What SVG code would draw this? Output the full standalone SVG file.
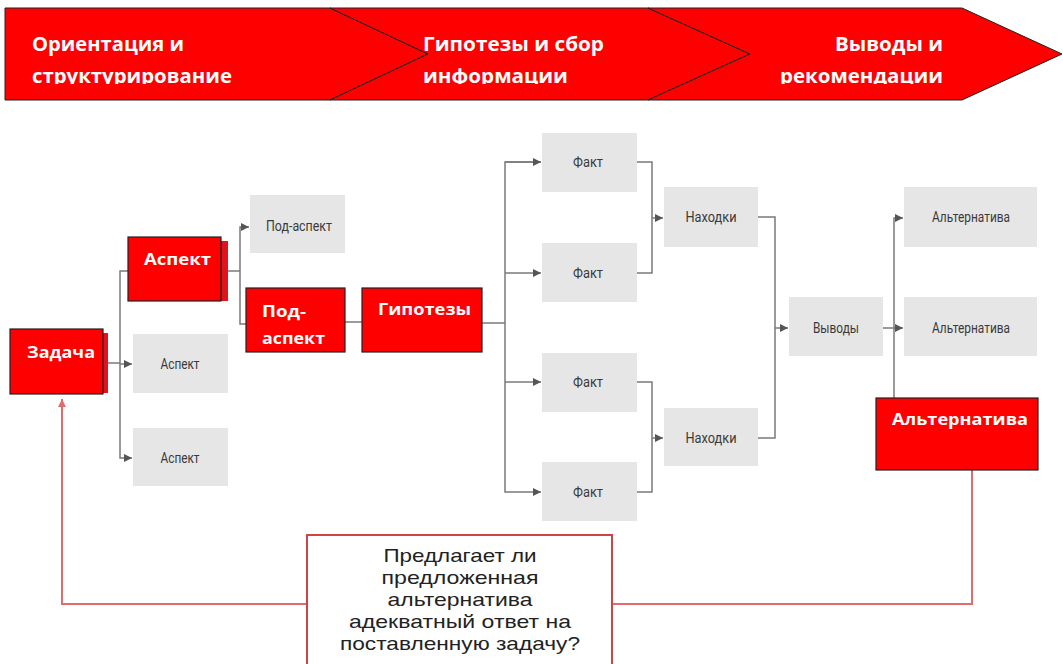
<svg xmlns="http://www.w3.org/2000/svg" width="1063" height="664" viewBox="0 0 1063 664">
<style>
.band{fill:#ff0000;stroke:#222;stroke-width:1}
.bt{font-family:"Open Sans","Liberation Sans",sans-serif;font-weight:bold;font-size:19px;fill:#fff}
.red{fill:#ff0000;stroke:#222;stroke-width:1.2}
.sh{fill:#e0141c}
.rt{font-family:"Open Sans","Liberation Sans",sans-serif;font-weight:bold;font-size:16px;fill:#fff}
.gray{fill:#e6e6e6}
.gt{font-family:"Roboto","Liberation Sans",sans-serif;font-size:14px;fill:#3a3a3a;text-anchor:middle}
.con{fill:none;stroke:#7a7a7a;stroke-width:1.5}
.fb{fill:none;stroke:#e36b6b;stroke-width:2}
.qt{font-family:"Liberation Sans",Arial,sans-serif;font-size:19px;fill:#222;text-anchor:middle}
</style>
<defs>
<marker id="ar" markerUnits="userSpaceOnUse" markerWidth="9" markerHeight="9" refX="8" refY="4.5" orient="auto"><path d="M0,0.5 L8,4.5 L0,8.5 z" fill="#555"/></marker>
<marker id="arr" markerUnits="userSpaceOnUse" markerWidth="9" markerHeight="9" refX="8" refY="4.5" orient="auto"><path d="M0,0.5 L8,4.5 L0,8.5 z" fill="#e36b6b"/></marker>
<clipPath id="bc"><rect x="0" y="0" width="1063" height="84"/></clipPath>
</defs>
<rect width="1063" height="664" fill="#fff"/>
<g id="banner">
<polygon class="band" points="5,8 330,8 428,54 330,100 5,100"/>
<polygon class="band" points="330,8 648,8 750,54 648,100 330,100 428,54"/>
<polygon class="band" points="648,8 962,8 1062,54 962,100 648,100 750,54"/>
<g clip-path="url(#bc)">
<text class="bt" x="32" y="51" textLength="152" lengthAdjust="spacingAndGlyphs">Ориентация и</text>
<text class="bt" x="32" y="83" textLength="200" lengthAdjust="spacingAndGlyphs">структурирование</text>
<text class="bt" x="423" y="51" textLength="181" lengthAdjust="spacingAndGlyphs">Гипотезы и сбор</text>
<text class="bt" x="423" y="83" textLength="145" lengthAdjust="spacingAndGlyphs">информации</text>
<text class="bt" x="835" y="51" textLength="108" lengthAdjust="spacingAndGlyphs">Выводы и</text>
<text class="bt" x="780" y="83" textLength="163" lengthAdjust="spacingAndGlyphs">рекомендации</text>
</g>
</g>
<g id="connectors">
<path class="con" d="M108,363 H120"/>
<path class="con" d="M128,271 H120 V458 H132" marker-end="url(#ar)"/>
<path class="con" d="M120,364 H132" marker-end="url(#ar)"/>
<path class="con" d="M228,271 H240"/>
<path class="con" d="M246,324 H240 V227 H249" marker-end="url(#ar)"/>
<path class="con" d="M345,322 H362"/>
<path class="con" d="M482,323 H505"/>
<path class="con" d="M541,162 H505 V492 H541" marker-end="url(#ar)"/>
<path class="con" d="M505,162 H541" marker-end="url(#ar)"/>
<path class="con" d="M505,273 H541" marker-end="url(#ar)"/>
<path class="con" d="M505,382 H541" marker-end="url(#ar)"/>
<path class="con" d="M637,162 H652 V273 H637"/>
<path class="con" d="M652,218 H663" marker-end="url(#ar)"/>
<path class="con" d="M637,382 H652 V492 H637"/>
<path class="con" d="M652,438 H663" marker-end="url(#ar)"/>
<path class="con" d="M758,217 H775 V438 H758"/>
<path class="con" d="M775,328 H788" marker-end="url(#ar)"/>
<path class="con" d="M883,328 H894"/>
<path class="con" d="M894,328 H903" marker-end="url(#ar)"/>
<path class="con" d="M894,398 V218 H903" marker-end="url(#ar)"/>
<path class="fb" d="M972,470 V604 H612"/>
<path class="fb" d="M307,604 H62 V399" marker-end="url(#arr)"/>
</g>
<g id="zadacha">
<rect class="sh" x="100" y="333" width="8" height="60"/>
<rect class="red" x="10" y="329" width="93" height="65"/>
<text class="rt" x="27" y="358" textLength="68" lengthAdjust="spacingAndGlyphs">Задача</text>
</g>
<g id="aspect-red">
<rect class="sh" x="218" y="241" width="10" height="60"/>
<rect class="red" x="128" y="237" width="93" height="64"/>
<text class="rt" x="144" y="265" textLength="67" lengthAdjust="spacingAndGlyphs">Аспект</text>
</g>
<g id="aspect-gray-1">
<rect class="gray" x="133" y="334" width="95" height="59"/>
<text class="gt" x="180" y="369" textLength="39" lengthAdjust="spacingAndGlyphs">Аспект</text>
</g>
<g id="aspect-gray-2">
<rect class="gray" x="133" y="428" width="95" height="58"/>
<text class="gt" x="180" y="463" textLength="39" lengthAdjust="spacingAndGlyphs">Аспект</text>
</g>
<g id="podaspect-gray">
<rect class="gray" x="250" y="195" width="95" height="58"/>
<text class="gt" x="299" y="231" textLength="66" lengthAdjust="spacingAndGlyphs">Под-аспект</text>
</g>
<g id="podaspect-red">
<rect class="red" x="246" y="288" width="99" height="64"/>
<text class="rt" x="262" y="317" textLength="44" lengthAdjust="spacingAndGlyphs">Под-</text>
<text class="rt" x="262" y="344" textLength="63" lengthAdjust="spacingAndGlyphs">аспект</text>
</g>
<g id="gipotezy">
<rect class="red" x="362" y="288" width="120" height="64"/>
<text class="rt" x="378" y="315" textLength="93" lengthAdjust="spacingAndGlyphs">Гипотезы</text>
</g>
<g id="fakt-1"><rect class="gray" x="542" y="133" width="95" height="59"/><text class="gt" x="588" y="167" textLength="30" lengthAdjust="spacingAndGlyphs">Факт</text></g>
<g id="fakt-2"><rect class="gray" x="542" y="243" width="95" height="59"/><text class="gt" x="588" y="278" textLength="30" lengthAdjust="spacingAndGlyphs">Факт</text></g>
<g id="fakt-3"><rect class="gray" x="542" y="353" width="95" height="59"/><text class="gt" x="588" y="387" textLength="30" lengthAdjust="spacingAndGlyphs">Факт</text></g>
<g id="fakt-4"><rect class="gray" x="542" y="462" width="95" height="59"/><text class="gt" x="588" y="497" textLength="30" lengthAdjust="spacingAndGlyphs">Факт</text></g>
<g id="nakhodki-1"><rect class="gray" x="664" y="187" width="94" height="60"/><text class="gt" x="711" y="222" textLength="51" lengthAdjust="spacingAndGlyphs">Находки</text></g>
<g id="nakhodki-2"><rect class="gray" x="664" y="408" width="94" height="58"/><text class="gt" x="711" y="443" textLength="51" lengthAdjust="spacingAndGlyphs">Находки</text></g>
<g id="vyvody"><rect class="gray" x="789" y="297" width="94" height="59"/><text class="gt" x="836" y="333" textLength="46" lengthAdjust="spacingAndGlyphs">Выводы</text></g>
<g id="alt-gray-1"><rect class="gray" x="904" y="187" width="133" height="60"/><text class="gt" x="971" y="222" textLength="78" lengthAdjust="spacingAndGlyphs">Альтернатива</text></g>
<g id="alt-gray-2"><rect class="gray" x="904" y="297" width="133" height="59"/><text class="gt" x="971" y="333" textLength="78" lengthAdjust="spacingAndGlyphs">Альтернатива</text></g>
<g id="alt-red">
<rect class="red" x="876" y="398" width="162" height="72"/>
<text class="rt" x="892" y="425" textLength="136" lengthAdjust="spacingAndGlyphs">Альтернатива</text>
</g>
<g id="question">
<rect x="307" y="535" width="305" height="140" fill="#fff" stroke="#cc4444" stroke-width="2"/>
<text class="qt" x="460" y="562" textLength="153" lengthAdjust="spacingAndGlyphs">Предлагает ли</text>
<text class="qt" x="460" y="584" textLength="157" lengthAdjust="spacingAndGlyphs">предложенная</text>
<text class="qt" x="460" y="606" textLength="145" lengthAdjust="spacingAndGlyphs">альтернатива</text>
<text class="qt" x="460" y="628" textLength="222" lengthAdjust="spacingAndGlyphs">адекватный ответ на</text>
<text class="qt" x="460" y="650" textLength="240" lengthAdjust="spacingAndGlyphs">поставленную задачу?</text>
</g>
</svg>
